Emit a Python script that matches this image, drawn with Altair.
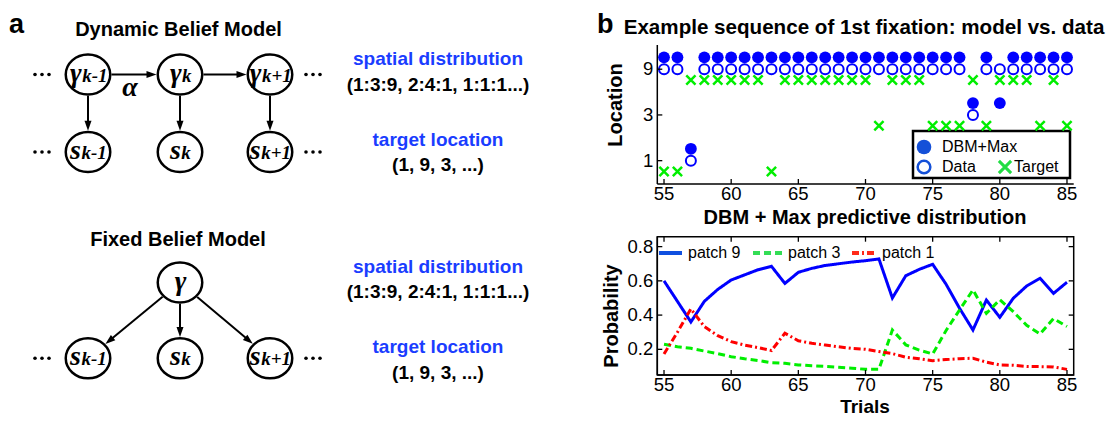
import math
import altair as alt
import pandas as pd

# ---------------- values ----------------
trials = list(range(55, 86))
# location of the 1st fixation (model prediction), observed data, and the target
model_loc = [9, 9, 1, 9, 9, 9, 9, 9, 9, 9,
             9, 9, 9, 9, 9, 9, 9, 9, 9, 9,
             9, 9, 9, 3, 9, 3, 9, 9, 9, 9,
             9]
data_loc = [9, 9, 1, 9, 9, 9, 9, 9, 9, 9,
            9, 9, 9, 9, 9, 9, 9, 9, 9, 9,
            9, 9, 9, 3, 9, 9, 9, 9, 9, 9,
            9]
target_loc = [1, 1, 9, 9, 9, 9, 9, 9, 1, 9,
              9, 9, 9, 9, 9, 9, 3, 9, 9, 9,
              3, 3, 3, 9, 3, 9, 9, 9, 3, 9,
              3]
# DBM + Max predictive distribution
p_patch9 = [0.60, 0.48, 0.36, 0.48, 0.55, 0.605, 0.635, 0.665, 0.685, 0.585,
            0.65, 0.673, 0.69, 0.70, 0.71, 0.718, 0.728, 0.50, 0.63, 0.667,
            0.697, 0.58, 0.44, 0.313, 0.488, 0.387, 0.498, 0.57, 0.615, 0.527,
            0.592]
p_patch3 = [0.23, 0.215, 0.206, 0.19, 0.175, 0.157, 0.145, 0.135, 0.122, 0.118,
            0.109, 0.104, 0.10, 0.095, 0.09, 0.083, 0.083, 0.313, 0.226, 0.195,
            0.173, 0.31, 0.43, 0.547, 0.41, 0.49, 0.42, 0.34, 0.29, 0.38,
            0.333]
p_patch1 = [0.173, 0.30, 0.436, 0.333, 0.28, 0.245, 0.225, 0.21, 0.193, 0.294,
            0.25, 0.235, 0.225, 0.215, 0.205, 0.20, 0.187, 0.175, 0.154, 0.145,
            0.134, 0.14, 0.145, 0.148, 0.125, 0.109, 0.107, 0.10, 0.099, 0.097,
            0.083]
x_ticks = [55, 60, 65, 70, 75, 80, 85]
loc_ticks = [1, 3, 9]
prob_ticks = [0.2, 0.4, 0.6, 0.8]
series_names = ["patch 9", "patch 3", "patch 1"]
scatter_names = ["DBM+Max", "Data", "Target"]

# diagram content
node_main = ["γ", "γ", "γ", "s", "s", "s", "γ", "s", "s", "s"]
node_sub = ["k-1", "k", "k+1", "k-1", "k", "k+1", "", "k-1", "k", "k+1"]
edges = [(0, 1), (1, 2), (0, 3), (1, 4), (2, 5), (6, 7), (6, 8), (6, 9)]

# ---------------- layout (page pixels) ----------------
PW, PH, O = 1098, 409, 8
node_x = [88, 180, 270, 88, 180, 270, 180, 88, 180, 270]
node_y = [74.5, 74.5, 74.5, 152, 152, 152, 282.5, 358.3, 358.3, 358.3]
RX, RY = 23.5, 21.3          # outer half-axes of the node outlines
dot_groups = [(42, 74.5), (313, 74.5), (42, 152), (313, 152), (42, 358.3), (313, 358.3)]

SANS, SERIF = "Liberation Sans", "Liberation Serif"
BLUE_TXT = "#1a3dff"
ELLIPSE = "M-1,0A1,0.9,0,1,0,1,0A1,0.9,0,1,0,-1,0Z"
XMARK = "M-1,-1L1,1M-1,1L1,-1"
HEAD = "M0,-1L0.7,1L-0.7,1Z"
HEAD_LEN = 10

px = alt.Scale(domain=[O, O + PW], range=[0, PW], nice=False, zero=False)
py = alt.Scale(domain=[O, O + PH], range=[0, PH], nice=False, zero=False)


def XP(f="x"):
    return alt.X(f"{f}:Q", scale=px, axis=None)


def YP(f="y"):
    return alt.Y(f"{f}:Q", scale=py, axis=None)


def page_text(rows, **style):
    df = pd.DataFrame(rows, columns=["text", "x", "y"])
    return alt.Chart(df).mark_text(**style).encode(x=XP(), y=YP(), text="text:N")


# ---- diagram: nodes ----
nodes_df = pd.DataFrame({"x": node_x, "y": node_y})
node_marks = alt.Chart(nodes_df).mark_point(
    shape=ELLIPSE, filled=False, color="black", strokeWidth=2.5, size=1980, opacity=1
).encode(x=XP(), y=YP())

# ---- diagram: arrows ----
shafts, heads = [], []
for a, b in edges:
    ax_, ay_, bx_, by_ = node_x[a], node_y[a], node_x[b], node_y[b]
    dx, dy = bx_ - ax_, by_ - ay_
    d = math.hypot(dx, dy)
    ux, uy = dx / d, dy / d
    r = 1 / math.sqrt((ux / RX) ** 2 + (uy / RY) ** 2)
    sx0, sy0 = ax_ + r * ux, ay_ + r * uy
    tx, ty = bx_ - r * ux, by_ - r * uy
    hx, hy = tx - HEAD_LEN / 2 * ux, ty - HEAD_LEN / 2 * uy
    ang = math.degrees(math.atan2(ux, -uy)) % 360
    shafts.append({"x": sx0, "y": sy0, "x2": hx, "y2": hy})
    heads.append({"x": hx, "y": hy, "ang": ang})
shaft_marks = alt.Chart(pd.DataFrame(shafts)).mark_rule(color="black", strokeWidth=2).encode(
    x=XP(), y=YP(), x2=alt.X2("x2"), y2=alt.Y2("y2"))
head_marks = alt.Chart(pd.DataFrame(heads)).mark_point(
    shape=HEAD, filled=True, color="black", opacity=1, size=HEAD_LEN ** 2
).encode(x=XP(), y=YP(), angle=alt.Angle("ang:Q", scale=None))

# ---- diagram: dots ----
dots = [{"x": cx + k * 7, "y": cy} for cx, cy in dot_groups for k in (-1, 0, 1)]
dot_marks = alt.Chart(pd.DataFrame(dots)).mark_circle(color="black", size=13, opacity=1).encode(
    x=XP(), y=YP())

# ---- diagram: node labels (main glyph + subscript) ----
EM = {"γ": 0.45, "s": 0.40, "k": 0.5, "-": 0.333, "+": 0.57, "1": 0.5}
MAIN_FS, SUB_FS = 28, 19
main_rows, sub_rows = [], []
for m, s, cx, cy in zip(node_main, node_sub, node_x, node_y):
    wm = EM[m] * MAIN_FS
    ws = sum(EM[c] for c in s) * SUB_FS
    split = cx - (wm + ws) / 2 + wm
    main_rows.append((m, split, cy + 7))
    if s:
        sub_rows.append((s, split + 0.5, cy + 7))
serif_style = dict(font=SERIF, fontStyle="italic", fontWeight="bold", baseline="alphabetic", color="black")
main_lbl = page_text(main_rows, align="right", fontSize=MAIN_FS, **serif_style)
sub_lbl = page_text(sub_rows, align="left", fontSize=SUB_FS, **serif_style)
alpha_lbl = page_text([("α", 130, 96)], align="center", fontSize=28, **serif_style)

# ---- texts ----
bold = dict(font=SANS, fontWeight="bold", align="center", baseline="middle")
letters = page_text([("a", 9, 33), ("b", 597, 33)], font=SANS, fontWeight="bold", fontSize=27,
                    align="left", baseline="alphabetic", color="black")
titles = page_text([("Dynamic Belief Model", 178.5, 30), ("Fixed Belief Model", 178, 240),
                    ("DBM + Max predictive distribution", 865, 218)],
                   fontSize=20, color="black", **bold)
title_top = page_text([("Example sequence of 1st fixation: model vs. data", 864, 28)],
                      fontSize=20.6, color="black", **bold)
blue_txt = page_text([("spatial distribution", 438, 58.5), ("target location", 438, 140),
                      ("spatial distribution", 438, 266.7), ("target location", 438, 346.7)],
                     fontSize=19, color=BLUE_TXT, **bold)
paren_txt = page_text([("(1:3:9, 2:4:1, 1:1:1...)", 438, 85), ("(1, 9, 3, ...)", 438, 165),
                       ("(1:3:9, 2:4:1, 1:1:1...)", 438, 291.7), ("(1, 9, 3, ...)", 438, 373)],
                      fontSize=19, color="black", **bold)
# axis titles
ytitles = page_text([("Location", 621.5, 105), ("Probability", 618, 316)], font=SANS, fontWeight="bold",
                    fontSize=20, angle=270, align="center", baseline="alphabetic", color="black")
xtitle = page_text([("Trials", 865, 412.8)], font=SANS, fontWeight="bold", fontSize=19,
                   align="center", baseline="alphabetic", color="black")

# ---- legend of the top panel ----
leg_box = alt.Chart(pd.DataFrame([{"x": 913, "x2": 1070, "y": 131, "y2": 178}])).mark_rect(
    fill="white", stroke="black", strokeWidth=2.5).encode(x=XP(), y=YP(), x2=alt.X2("x2"), y2=alt.Y2("y2"))
leg_fill = alt.Chart(pd.DataFrame([{"x": 924, "y": 147}])).mark_point(
    shape="circle", filled=True, color="#1450d8", size=215, opacity=1).encode(x=XP(), y=YP())
leg_open = alt.Chart(pd.DataFrame([{"x": 924, "y": 167}])).mark_point(
    shape="circle", filled=False, color="#1450d8", strokeWidth=2.5, size=160, opacity=1).encode(x=XP(), y=YP())
leg_x = alt.Chart(pd.DataFrame([{"x": 1005, "y": 167}])).mark_point(
    shape=XMARK, filled=False, color="#22dd44", strokeWidth=3, size=150, opacity=1).encode(x=XP(), y=YP())
leg_txt = page_text([(scatter_names[0], 942, 147), (scatter_names[1], 942, 167), (scatter_names[2], 1014, 167)],
                    font=SANS, fontSize=16, align="left", baseline="middle", color="black")

# ---- legend of the bottom panel ----
line_colors = ["#0000ff", "#00ee00", "#ff0000"]
leg_line_colors = ["#1050e0", "#33dd55", "#ff2a1a"]
dashes = [[1, 0], [7, 4], [7, 3, 2, 3]]
leg_lines = []
for (x0, x1, xt), name, col, dash in zip([(659, 682, 688), (753, 782, 788), (852, 877, 882)],
                                          series_names, leg_line_colors, dashes):
    leg_lines.append(alt.Chart(pd.DataFrame([{"x": x0, "x2": x1, "y": 253, "y2": 253}])).mark_rule(
        color=col, strokeWidth=4, strokeDash=dash).encode(x=XP(), y=YP(), x2=alt.X2("x2"), y2=alt.Y2("y2")))
    leg_lines.append(page_text([(name, xt, 253)], font=SANS, fontSize=16, align="left",
                               baseline="middle", color="black"))

page = alt.layer(node_marks, shaft_marks, head_marks, dot_marks, main_lbl, sub_lbl, alpha_lbl,
                 letters, titles, title_top, blue_txt, paren_txt, ytitles, xtitle,
                 leg_box, leg_fill, leg_open, leg_x, leg_txt, *leg_lines)

# ---------------- scales of the two panels ----------------
X_DOM = [54.5, 85.5]
X_RNG = [649.3, 1065.7]
LOC_DOM = [0.571, 16.1]
PROB_DOM = [0.05, 0.858]
sx = alt.Scale(domain=X_DOM, range=X_RNG, nice=False, zero=False)
sy_loc = alt.Scale(type="log", domain=LOC_DOM, range=[176, 37], nice=False)
sy_prob = alt.Scale(domain=PROB_DOM, range=[367, 228.7], nice=False, zero=False)

LAB = dict(font=SANS, fontSize=18.5, color="black")
TK = dict(color="black", thickness=1.3, size=5, opacity=1)
one = pd.DataFrame({"a": [0]})
xt_df = pd.DataFrame({"t": x_ticks})


def XD(v):
    return alt.XDatum(v, type="quantitative", scale=sx, axis=None)


def YD(v, s):
    return alt.YDatum(v, type="quantitative", scale=s, axis=None)


def panel_axes(sy, ydom, yticks, yfmt, top_ticks):
    """Axis lines, inward ticks and tick labels drawn on the panel's own scales."""
    yt_df = pd.DataFrame({"t": yticks})
    parts = [
        alt.Chart(xt_df).mark_text(baseline="top", align="center", dy=1, **LAB).encode(
            x=alt.X("t:Q", scale=sx, axis=None), y=YD(ydom[0], sy), text=alt.Text("t:Q", format="d")),
        alt.Chart(yt_df).mark_text(baseline="middle", align="right", dx=-4, **LAB).encode(
            y=alt.Y("t:Q", scale=sy, axis=None), x=XD(X_DOM[0]), text=alt.Text("t:Q", format=yfmt)),
        alt.Chart(one).mark_rule(color="black", strokeWidth=1.5).encode(
            x=XD(X_DOM[0]), y=YD(ydom[0], sy), y2=alt.Y2Datum(ydom[1])),
        alt.Chart(one).mark_rule(color="black", strokeWidth=1.5).encode(
            x=XD(X_DOM[0]), x2=alt.X2Datum(X_DOM[1]), y=YD(ydom[0], sy)),
        alt.Chart(xt_df).mark_tick(orient="vertical", yOffset=-2.5, **TK).encode(
            x=alt.X("t:Q", scale=sx, axis=None), y=YD(ydom[0], sy)),
        alt.Chart(yt_df).mark_tick(orient="horizontal", xOffset=2.5, **TK).encode(
            y=alt.Y("t:Q", scale=sy, axis=None), x=XD(X_DOM[0])),
    ]
    if top_ticks:
        parts += [
            alt.Chart(one).mark_rect(fillOpacity=0, stroke="black", strokeWidth=1.5).encode(
                x=XD(X_DOM[0]), x2=alt.X2Datum(X_DOM[1]), y=YD(ydom[0], sy), y2=alt.Y2Datum(ydom[1])),
            alt.Chart(xt_df).mark_tick(orient="vertical", yOffset=2.5, **TK).encode(
                x=alt.X("t:Q", scale=sx, axis=None), y=YD(ydom[1], sy)),
            alt.Chart(yt_df).mark_tick(orient="horizontal", xOffset=-2.5, **TK).encode(
                y=alt.Y("t:Q", scale=sy, axis=None), x=XD(X_DOM[1])),
        ]
    return parts


# ---------------- top panel: example sequence ----------------
scat_df = pd.DataFrame({"trial": trials, "model": model_loc, "data": data_loc, "target": target_loc})
MODEL_LIFT, TARGET_DROP = 1.33, 0.77   # vertical display offsets used in the figure

s_model = alt.Chart(scat_df).transform_calculate(yv=f"datum.model * {MODEL_LIFT}").mark_point(
    shape="circle", filled=True, color="#0000ff", size=140, opacity=1
).encode(x=alt.X("trial:Q", scale=sx, axis=None), y=alt.Y("yv:Q", scale=sy_loc, axis=None))
s_data = alt.Chart(scat_df).mark_point(
    shape="circle", filled=False, color="#0000ff", strokeWidth=2, size=100, opacity=1
).encode(x=alt.X("trial:Q", scale=sx, axis=None), y=alt.Y("data:Q", scale=sy_loc, axis=None))
s_target = alt.Chart(scat_df).transform_calculate(yv=f"datum.target * {TARGET_DROP}").mark_point(
    shape=XMARK, filled=False, color="#00ee00", strokeWidth=2.5, size=85, opacity=1
).encode(x=alt.X("trial:Q", scale=sx, axis=None), y=alt.Y("yv:Q", scale=sy_loc, axis=None))

scatter = alt.layer(s_model, s_data, s_target, *panel_axes(sy_loc, LOC_DOM, loc_ticks, "d", False))

# ---------------- bottom panel: predictive distribution ----------------
line_df = pd.DataFrame({
    "trial": trials * 3,
    "p": p_patch9 + p_patch3 + p_patch1,
    "series": [series_names[0]] * len(trials) + [series_names[1]] * len(trials) + [series_names[2]] * len(trials),
})
lines = alt.Chart(line_df).mark_line(strokeWidth=3).encode(
    x=alt.X("trial:Q", scale=sx, axis=None),
    y=alt.Y("p:Q", scale=sy_prob, axis=None),
    color=alt.Color("series:N", scale=alt.Scale(domain=series_names, range=line_colors), legend=None),
    strokeDash=alt.StrokeDash("series:N", scale=alt.Scale(domain=series_names, range=dashes), legend=None),
)
bottom = alt.layer(lines, *panel_axes(sy_prob, PROB_DOM, prob_ticks, ".1f", True))

chart = alt.layer(page, scatter, bottom).resolve_scale(
    x="independent", y="independent"
).properties(
    width=PW, height=PH, padding=0, background="white",
    autosize=alt.AutoSizeParams(type="none"),
).configure_view(stroke=None)

chart.save("out.html", embed_options={"renderer": "svg", "actions": False})
